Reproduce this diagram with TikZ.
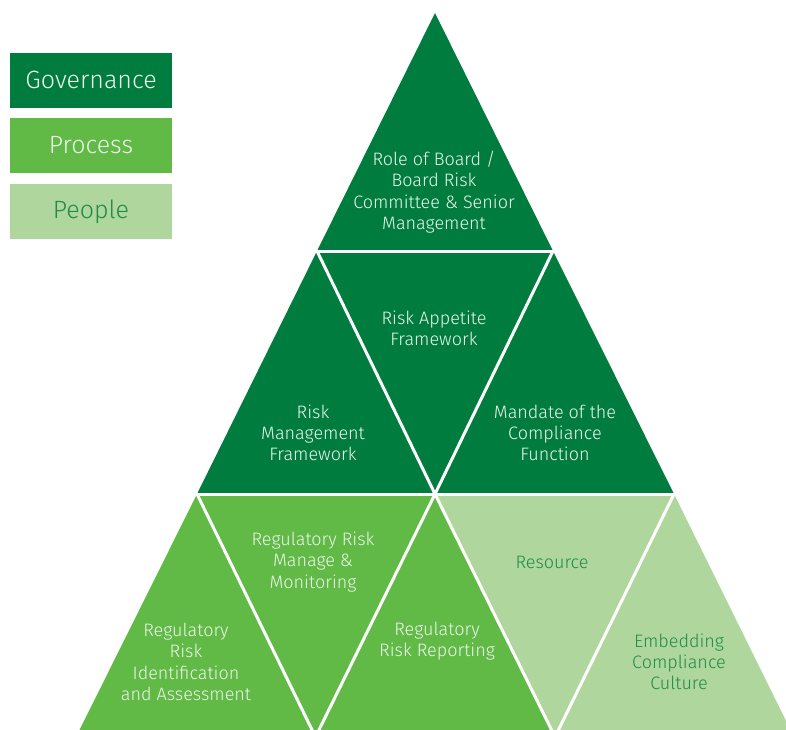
\documentclass[tikz,border=0pt]{standalone}
\usepackage{fontspec}
\IfFontExistsTF{Fira Sans Light}{\setmainfont{Fira Sans Light}}{\setmainfont{Fira Sans}}
\usepackage{xcolor}
\usepackage{tikz}
\usetikzlibrary{positioning}
\definecolor{govgreen}{RGB}{0,125,62}
\definecolor{procgreen}{RGB}{97,185,70}
\definecolor{peoplegreen}{RGB}{175,214,156}
\definecolor{peopletext}{RGB}{30,140,72}
\definecolor{lighttext}{RGB}{236,246,236}

\begin{document}
\begin{tikzpicture}[x=1pt, y=-1pt,
	tritext/.style={align=center, text=lighttext, font=\fontsize{18}{21.3}\selectfont},
	legendbox/.style={minimum width=162pt, minimum height=55pt, inner sep=0pt, text=lighttext, font=\fontsize{25}{30}\selectfont},
	gap/.style={draw=white, line width=3pt}]
	\useasboundingbox (0,0) rectangle (786,729);
	% legend
	\node[legendbox, fill=govgreen] (gov) at (91,80) {Governance};
	\node[legendbox, fill=procgreen, below=10pt of gov] (proc) {Process};
	\node[legendbox, fill=peoplegreen, text=peopletext, below=11pt of proc] (ppl) {People};
	% corners of the pyramid
	\coordinate (apex) at (435,13);
	\coordinate (r1l) at (317,251);
	\coordinate (r1r) at (553,251);
	\coordinate (r2l) at (197,494);
	\coordinate (r2m) at (435,494);
	\coordinate (r2r) at (674,494);
	\coordinate (r3a) at (76,737);
	\coordinate (r3b) at (315.5,737);
	\coordinate (r3c) at (555,737);
	\coordinate (r3d) at (794,737);
	\begin{scope}
		\clip (0,0) rectangle (786,729);
		\fill[govgreen] (apex) -- (r1l) -- (r1r) -- cycle;
		\fill[govgreen] (r1l) -- (r2l) -- (r2r) -- (r1r) -- cycle;
		\fill[procgreen] (r2l) -- (r3a) -- (r3c) -- (r2m) -- cycle;
		\fill[peoplegreen] (r2m) -- (r3c) -- (r3d) -- (r2r) -- cycle;
		\draw[gap] (r1l) -- (r1r);
		\draw[gap] (r2l) -- (r2r);
		\draw[gap] (r1l) -- (r2m) -- (r1r);
		\draw[gap] (r2l) -- (r3b) -- (r2m) -- (r3c) -- (r2r);
	\end{scope}
	% texts
	\node[tritext] (board) at (434,192) {Role of Board /\\Board Risk\\Committee \& Senior\\Management};
	\node[tritext] (appetite) at (434,328) {Risk Appetite\\Framework};
	\node[tritext] (rmf) at (313,433) {Risk\\Management\\Framework};
	\node[tritext] (mandate) at (555,433) {Mandate of the\\Compliance\\Function};
	\node[tritext] (monitor) at (313,562) {Regulatory Risk\\Manage \&\\Monitoring};
	\node[tritext] (ident) at (186,662) {Regulatory\\Risk\\Identification\\and Assessment};
	\node[tritext] (report) at (437,641) {Regulatory\\Risk Reporting};
	\node[tritext, text=peopletext] (resource) at (552,562) {Resource};
	\node[tritext, text=peopletext] (culture) at (679,662) {Embedding\\Compliance\\Culture};
\end{tikzpicture}
\end{document}
